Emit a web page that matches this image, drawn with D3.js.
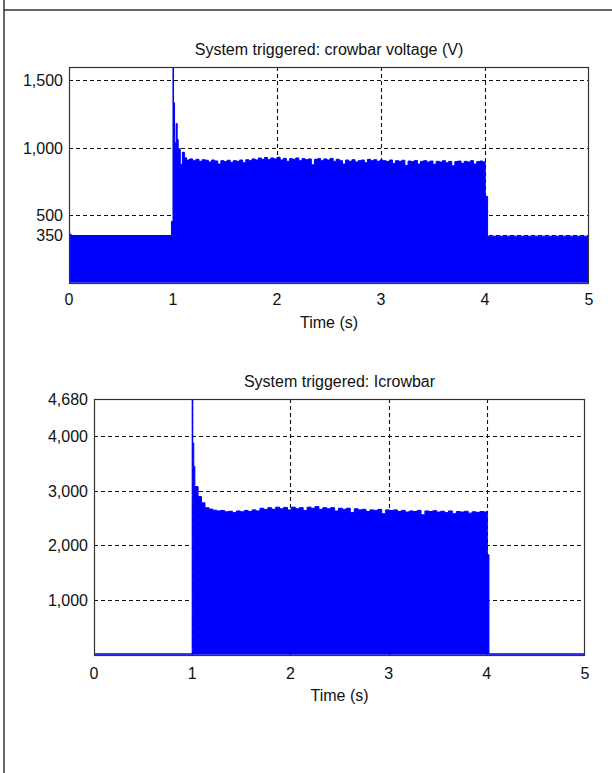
<!DOCTYPE html>
<html><head><meta charset="utf-8">
<script src="https://cdn.jsdelivr.net/npm/d3@7"></script>
<style>
html,body{margin:0;padding:0;background:#fff;}
svg{display:block;font-family:"Liberation Sans",Arial,sans-serif;}
</style></head>
<body>
<svg id="c" width="612" height="773"></svg>
<script>
// ---- data ----
const xTicks = [0, 1, 2, 3, 4, 5];
const voltTicks = [350, 500, 1000, 1500];
const currTicks = [1000, 2000, 3000, 4000, 4680];

const voltTime = [0, 0.005, 0.02, 0.5, 0.98, 0.985, 0.998, 1.0, 1.004, 1.015, 1.03, 1.04, 1.05, 1.07, 1.09, 1.11,
  1.13, 1.16, 1.19, 1.22, 1.25, 1.28, 1.31, 1.34, 1.37, 1.40, 1.43, 1.46, 1.49, 1.52, 1.55, 1.58, 1.61, 1.64, 1.67,
  1.70, 1.73, 1.76, 1.79, 1.82, 1.85, 1.88, 1.91, 1.94, 1.97, 2.00, 2.03, 2.06, 2.09, 2.12, 2.15, 2.18, 2.21, 2.24,
  2.27, 2.30, 2.33, 2.36, 2.39, 2.42, 2.45, 2.48, 2.51, 2.54, 2.57, 2.60, 2.63, 2.66, 2.69, 2.72, 2.75, 2.78, 2.81,
  2.84, 2.87, 2.90, 2.93, 2.96, 2.99, 3.02, 3.05, 3.08, 3.11, 3.14, 3.17, 3.20, 3.23, 3.26, 3.29, 3.32, 3.35, 3.38,
  3.41, 3.44, 3.47, 3.50, 3.53, 3.56, 3.59, 3.62, 3.65, 3.68, 3.71, 3.74, 3.77, 3.80, 3.83, 3.86, 3.89, 3.92, 3.95,
  3.98, 4.0, 4.002, 4.02, 4.025, 5.0];
const voltValue = [380, 360, 350, 350, 350, 455, 455, 1620, 1334, 1037, 1180, 1062, 993, 876, 967, 926,
  910, 918, 905, 915, 900, 912, 908, 895, 910, 903, 880, 905, 898, 908, 893, 905, 900, 910, 890,
  912, 905, 918, 910, 925, 915, 928, 912, 925, 918, 930, 910, 922, 900, 920, 915, 925, 905, 920,
  912, 918, 875, 915, 920, 905, 918, 910, 922, 900, 915, 905, 880, 910, 900, 912, 895, 905, 910,
  890, 915, 905, 912, 900, 910, 905, 898, 910, 885, 905, 900, 908, 870, 902, 898, 906, 880, 900,
  905, 895, 902, 878, 900, 895, 905, 890, 900, 868, 898, 902, 885, 900, 895, 905, 880, 898, 902,
  895, 900, 640, 640, 345, 345];

const currTime = [0, 0.995, 1.0, 1.006, 1.016, 1.027, 1.06, 1.095, 1.13, 1.17, 1.21, 1.25, 1.29, 1.33, 1.37, 1.41,
  1.45, 1.49, 1.53, 1.57, 1.61, 1.65, 1.69, 1.73, 1.77, 1.81, 1.85, 1.89, 1.93, 1.97, 2.01, 2.05, 2.09, 2.13, 2.17,
  2.21, 2.25, 2.29, 2.33, 2.37, 2.41, 2.45, 2.49, 2.53, 2.57, 2.61, 2.65, 2.69, 2.73, 2.77, 2.81, 2.85, 2.89, 2.93,
  2.97, 3.01, 3.05, 3.09, 3.13, 3.17, 3.21, 3.25, 3.29, 3.33, 3.37, 3.41, 3.45, 3.49, 3.53, 3.57, 3.61, 3.65, 3.69,
  3.73, 3.77, 3.81, 3.85, 3.89, 3.93, 3.97, 4.0, 4.005, 4.02, 4.022, 5.0];
const currValue = [15, 15, 4700, 3870, 3442, 3077, 2894, 2779, 2690, 2665, 2645, 2630, 2640, 2615, 2625, 2600,
  2630, 2615, 2640, 2620, 2650, 2630, 2680, 2655, 2690, 2660, 2700, 2670, 2695, 2650, 2700, 2670, 2690, 2640, 2700,
  2680, 2710, 2660, 2690, 2670, 2690, 2630, 2680, 2660, 2680, 2600, 2670, 2650, 2660, 2620, 2650, 2640, 2660, 2580,
  2650, 2640, 2650, 2620, 2640, 2610, 2630, 2620, 2640, 2560, 2630, 2620, 2635, 2610, 2625, 2600, 2630, 2580, 2620,
  2610, 2625, 2590, 2615, 2605, 2620, 2610, 2630, 1830, 1830, 15, 15];

const svg = d3.select("#c");

// outer cell border
svg.append("line").attr("x1", 4).attr("x2", 4).attr("y1", 0).attr("y2", 773).attr("stroke", "#333").attr("stroke-width", 1.5);
svg.append("line").attr("x1", 4).attr("x2", 612).attr("y1", 10).attr("y2", 10).attr("stroke", "#333").attr("stroke-width", 1.5);

function drawChart(cfg) {
  const x = d3.scaleLinear().domain([0, 5]).range([cfg.left, cfg.right]);
  const y = d3.scaleLinear().domain(cfg.yDomain).range([cfg.bottom, cfg.top]);
  const g = svg.append("g");
  const id = "clip" + cfg.key;
  g.append("clipPath").attr("id", id).append("rect")
    .attr("x", cfg.left).attr("y", cfg.top).attr("width", cfg.right - cfg.left).attr("height", cfg.bottom - cfg.top);

  const data = cfg.time.map((t, i) => [t, cfg.values[i]]);
  const area = d3.area().x(d => x(d[0])).y0(y(0)).y1(d => y(d[1])).curve(d3.curveStepAfter);
  const line = d3.line().x(d => x(d[0])).y(d => y(d[1])).curve(d3.curveStepAfter);

  // grid (behind data)
  const grid = g.append("g").attr("stroke", "#111").attr("stroke-width", 1.1).attr("stroke-dasharray", "4,3");
  cfg.gridY.forEach(v => grid.append("line").attr("x1", cfg.left).attr("x2", cfg.right)
    .attr("y1", Math.round(y(v)) + 0.5).attr("y2", Math.round(y(v)) + 0.5));
  [1, 2, 3, 4].forEach(v => grid.append("line").attr("y1", cfg.top).attr("y2", cfg.bottom)
    .attr("x1", Math.round(x(v)) + 0.5).attr("x2", Math.round(x(v)) + 0.5));

  const pg = g.append("g").attr("clip-path", `url(#${id})`);
  pg.append("path").datum(data).attr("d", area).attr("fill", "#0000ff");
  pg.append("path").datum(data).attr("d", line).attr("fill", "none").attr("stroke", "#0000ff").attr("stroke-width", 1);

  // box
  g.append("rect").attr("x", cfg.left + 0.5).attr("y", cfg.top + 0.5).attr("width", cfg.right - cfg.left - 1)
    .attr("height", cfg.bottom - cfg.top - 1).attr("fill", "none").attr("stroke", "#333").attr("stroke-width", 1.2);

  // y tick labels
  const fmt = d3.format(",");
  cfg.yTicks.forEach(v => g.append("text").attr("x", cfg.left - 6).attr("y", y(v)).attr("dy", "0.36em")
    .attr("text-anchor", "end").attr("font-size", 16).attr("fill", "#111").text(fmt(v)));
  // x tick labels
  xTicks.forEach(v => g.append("text").attr("x", x(v)).attr("y", cfg.xTickY)
    .attr("text-anchor", "middle").attr("font-size", 16).attr("fill", "#111").text(v));
  // title & xlabel
  g.append("text").attr("x", (cfg.left + cfg.right) / 2).attr("y", cfg.titleY).attr("text-anchor", "middle")
    .attr("font-size", 16).attr("fill", "#111").text(cfg.title);
  g.append("text").attr("x", (cfg.left + cfg.right) / 2).attr("y", cfg.xLabelY).attr("text-anchor", "middle")
    .attr("font-size", 16).attr("fill", "#111").text("Time (s)");
}

drawChart({
  key: "v", left: 69, right: 589, top: 67, bottom: 284, yDomain: [-10, 1600],
  time: voltTime, values: voltValue, yTicks: voltTicks, gridY: voltTicks,
  xTickY: 305, titleY: 55, xLabelY: 328, title: "System triggered: crowbar voltage (V)"
});
drawChart({
  key: "i", left: 94, right: 585, top: 399, bottom: 656, yDomain: [-25, 4680],
  time: currTime, values: currValue, yTicks: currTicks, gridY: [1000, 2000, 3000, 4000],
  xTickY: 679, titleY: 387, xLabelY: 701, title: "System triggered: Icrowbar"
});
</script>
</body></html>
